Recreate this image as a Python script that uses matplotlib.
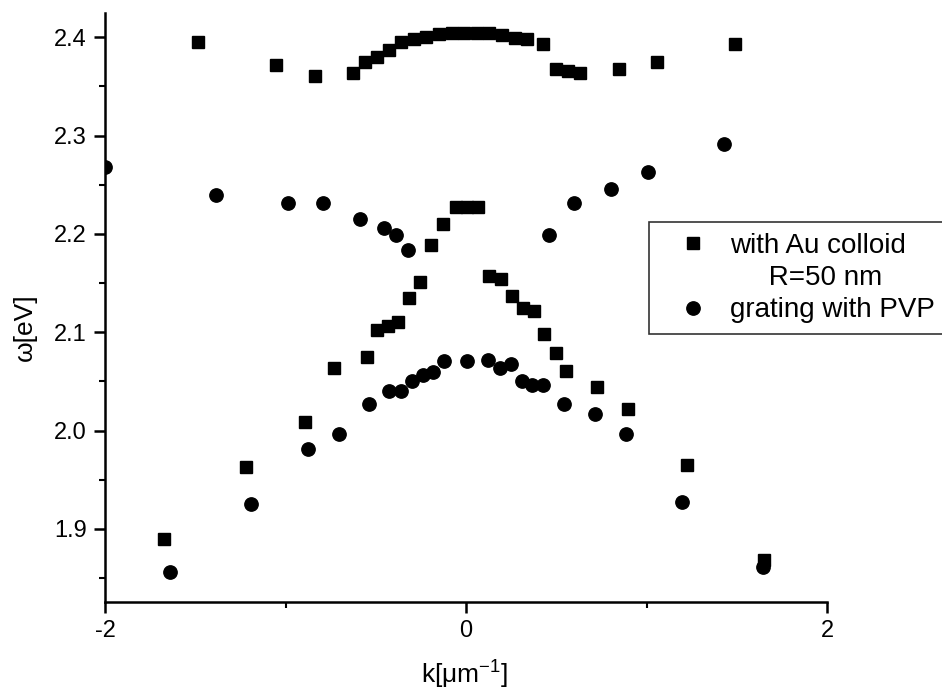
import matplotlib
matplotlib.use("Agg")
import matplotlib.pyplot as plt
from matplotlib.lines import Line2D
from matplotlib.ticker import MultipleLocator

plt.rcParams['font.family'] = ['Liberation Sans', 'DejaVu Sans']
plt.rcParams['mathtext.fontset'] = 'custom'
plt.rcParams['mathtext.rm'] = 'Liberation Sans'
plt.rcParams['mathtext.it'] = 'Liberation Sans:italic'

# with Au colloid R=50 nm (squares)
k_au = [-1.485, -1.051, -0.837, -0.628, -0.56, -0.493, -0.425,
        -0.36, -0.29, -0.22, -0.15, -0.08, -0.01, 0.06, 0.13, 0.20, 0.27, 0.34, 0.425,
        0.50, 0.563, 0.633, 0.846, 1.058, 1.49,
        -0.194, -0.129, -0.055, 0.005, 0.066,
        -0.253, -0.314, -0.375, -0.434, -0.495, -0.55, -0.733, -0.892, -1.219, -1.675,
        0.129, 0.194, 0.253, 0.318, 0.378, 0.434, 0.499, 0.554, 0.726, 0.896, 1.223, 1.649]
w_au = [2.395, 2.372, 2.361, 2.364, 2.375, 2.380, 2.387,
        2.395, 2.398, 2.400, 2.403, 2.404, 2.404, 2.404, 2.404, 2.402, 2.399, 2.398, 2.393,
        2.368, 2.366, 2.364, 2.368, 2.375, 2.393,
        2.189, 2.210, 2.227, 2.227, 2.227,
        2.151, 2.135, 2.110, 2.106, 2.102, 2.075, 2.064, 2.009, 1.963, 1.890,
        2.157, 2.154, 2.137, 2.125, 2.122, 2.098, 2.079, 2.061, 2.044, 2.022, 1.965, 1.868]

# grating with PVP (circles)
k_pvp = [-2.0, -1.385, -0.988, -0.79, -0.587, -0.453, -0.388, -0.323,
         0.458, 0.60, 0.803, 1.01, 1.428,
         -1.64, -1.191, -0.877, -0.705, -0.539, -0.425, -0.36, -0.301, -0.24, -0.181, -0.12, 0.005,
         0.124, 0.188, 0.249, 0.308, 0.366, 0.425, 0.541, 0.716, 0.886, 1.195, 1.644]
w_pvp = [2.268, 2.240, 2.231, 2.231, 2.215, 2.206, 2.199, 2.184,
         2.199, 2.231, 2.246, 2.263, 2.291,
         1.856, 1.925, 1.981, 1.997, 2.027, 2.040, 2.040, 2.050, 2.057, 2.060, 2.071, 2.071,
         2.072, 2.064, 2.068, 2.050, 2.046, 2.046, 2.027, 2.017, 1.997, 1.927, 1.861]

x_ticks = [-2, 0, 2]
y_ticks = [1.9, 2.0, 2.1, 2.2, 2.3, 2.4]
label_au = "with Au colloid"
label_au2 = "R=50 nm"
label_pvp = "grating with PVP"

fig = plt.figure(figsize=(9.42, 6.91), dpi=100)
ax = fig.add_axes([105/942, 1-602/691, (827-105)/942, (602-13)/691])

ax.plot(k_au, w_au, linestyle='none', marker='s', ms=8.6, color='black', mec='black')
ax.plot(k_pvp, w_pvp, linestyle='none', marker='o', ms=9.6, color='black', mec='black')

ax.set_xlim(-2, 2)
ax.set_ylim(1.8257, 2.4247)
ax.spines['top'].set_visible(False)
ax.spines['right'].set_visible(False)
for s in ('left', 'bottom'):
    ax.spines[s].set_linewidth(1.8)
ax.set_xticks(x_ticks)
ax.set_xticklabels([str(v) for v in x_ticks])
ax.set_yticks(y_ticks)
ax.set_yticklabels([f"{v:.1f}" for v in y_ticks])
ax.xaxis.set_minor_locator(MultipleLocator(1))
ax.yaxis.set_minor_locator(MultipleLocator(0.05))
ax.tick_params(which='major', length=8, width=1.8, labelsize=17, direction='out', pad=5)
ax.tick_params(which='minor', length=4, width=1.5, direction='out')

ax.set_xlabel("k[μm$^{-1}$]", fontsize=19)
ax.set_ylabel("ω[eV]", fontsize=19)
ax.xaxis.set_label_coords((465-105)/(827-105), -(659-602)/(602-13))
ax.yaxis.set_label_coords(-(105-37)/(827-105), (602-327)/(602-13))

handles = [Line2D([], [], linestyle='none', marker='s', ms=8.6, color='black'),
           Line2D([], [], linestyle='none', marker=None, color='none'),
           Line2D([], [], linestyle='none', marker='o', ms=9.6, color='black')]
labels = [label_au, "     " + label_au2, label_pvp]
leg = fig.legend(handles, labels, loc='upper left',
                 bbox_to_anchor=(649/942, 1-222/691, (960-649)/942, 0.0001),
                 mode='expand', frameon=True, fancybox=False, fontsize=20,
                 labelspacing=0.22, handlelength=2.4, handletextpad=0.1,
                 borderpad=0.4, borderaxespad=0.0)
leg.get_frame().set_edgecolor('black')
leg.get_frame().set_linewidth(1.2)

fig.savefig("out.png", dpi=100)
